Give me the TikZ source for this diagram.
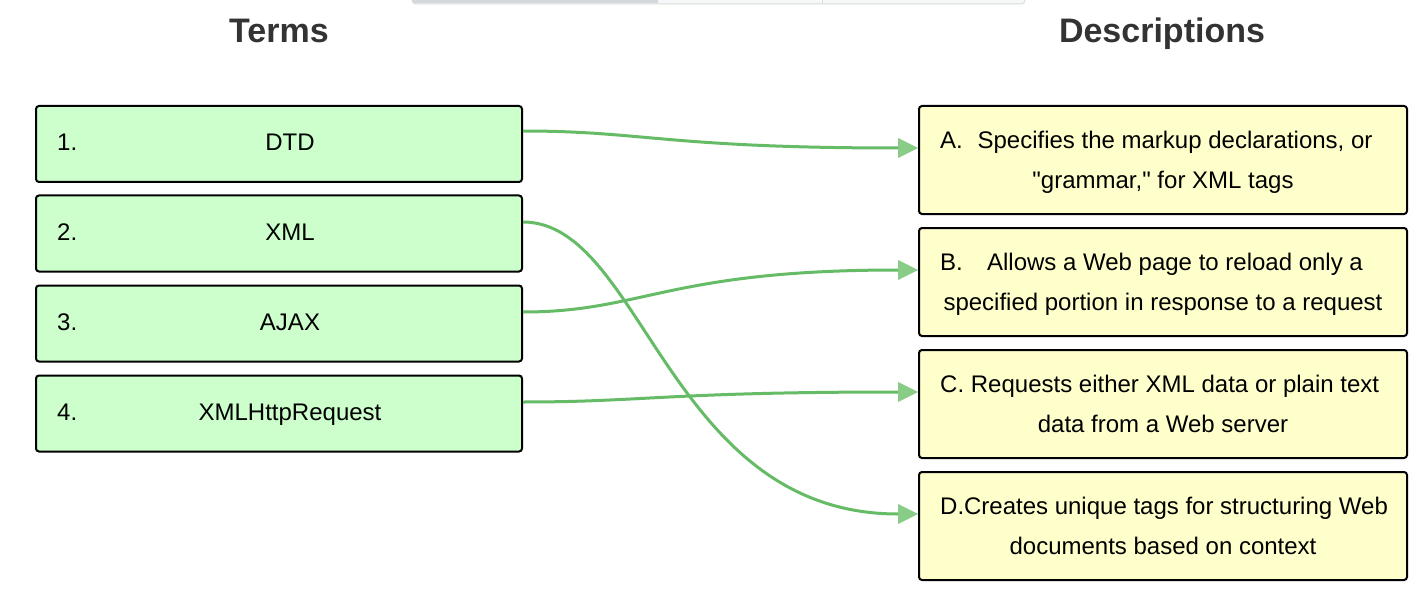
\documentclass[tikz,border=0pt]{standalone}
\usepackage{fontspec}
\setmainfont{Liberation Sans}[Ligatures=TeXOff]
\usetikzlibrary{arrows.meta}
\definecolor{termfill}{HTML}{CCFFCC}
\definecolor{descfill}{HTML}{FFFFCC}
\definecolor{linkgreen}{HTML}{66BB66}
\definecolor{tipgreen}{HTML}{88CC88}
\definecolor{titlegray}{HTML}{333333}
\definecolor{barlight}{HTML}{F6F7F8}
\definecolor{bardark}{HTML}{D3D8DF}
\definecolor{barline}{HTML}{DADCDC}
\begin{document}
\begin{tikzpicture}[x=1pt,y=-1pt,
  termbox/.style={draw=black, line width=2pt, fill=termfill, rounded corners=3pt,
    minimum width=486pt, minimum height=76pt, inner sep=0pt},
  descbox/.style={draw=black, line width=2pt, fill=descfill, rounded corners=3pt,
    minimum width=488pt, minimum height=108pt, inner sep=0pt},
  boxtext/.style={font=\fontsize{24}{28}\selectfont, inner sep=0pt, anchor=base},
  boxlabel/.style={boxtext, anchor=base west},
  titletext/.style={font=\fontsize{34}{40}\selectfont\bfseries, text=titlegray, inner sep=0pt, anchor=base},
  link/.style={draw=linkgreen, line width=3pt,
    -{Triangle[length=20pt,width=20pt,color=tipgreen,line width=0pt]}}
]
\useasboundingbox (0,0) rectangle (1426,604);
\fill[white] (0,0) rectangle (1426,604);

% top bar fragment
\draw[barline, fill=barlight, line width=1pt, rounded corners=4pt] (412,-8) rectangle (1025,4);
\fill[bardark] (412.5,-8) rectangle (658,3.5);
\draw[barline, line width=1pt] (822,-8) -- (822,4);

% titles
\node[titletext] (ttl) at (279,43) {Terms};
\node[titletext] (dtl) at (1162,43) {Descriptions};

% term boxes
\node[termbox] (t1) at (279,144) {};
\node[termbox] (t2) at (279,233.5) {};
\node[termbox] (t3) at (279,323.5) {};
\node[termbox] (t4) at (279,413.5) {};
\node[boxlabel] (t1n) at (57,150.5) {1.};
\node[boxlabel] (t2n) at (57,240) {2.};
\node[boxlabel] (t3n) at (57,330) {3.};
\node[boxlabel] (t4n) at (57,420) {4.};
\node[boxtext] (t1t) at (290,150.5) {DTD};
\node[boxtext] (t2t) at (290,240) {XML};
\node[boxtext] (t3t) at (290,330) {AJAX};
\node[boxtext] (t4t) at (290,420) {XMLHttpRequest};

% description boxes
\node[descbox] (dA) at (1163,160) {};
\node[descbox] (dB) at (1163,282) {};
\node[descbox] (dC) at (1163,404) {};
\node[descbox] (dD) at (1163,526) {};
\node[boxlabel] (dAn) at (940,148.5) {A.};
\node[boxlabel] (dBn) at (940,270.5) {B.};
\node[boxlabel] (dCn) at (940,392.5) {C.};
\node[boxlabel] (dDn) at (940,514.5) {D.};
\node[boxtext] (dA1) at (1175,148.5) {Specifies the markup declarations, or};
\node[boxtext] (dA2) at (1163,188.5) {"grammar," for XML tags};
\node[boxtext] (dB1) at (1175,270.5) {Allows a Web page to reload only a};
\node[boxtext] (dB2) at (1163,310.5) {specified portion in response to a request};
\node[boxtext] (dC1) at (1175,392.5) {Requests either XML data or plain text};
\node[boxtext] (dC2) at (1163,432.5) {data from a Web server};
\node[boxtext] (dD1) at (1176,514.5) {Creates unique tags for structuring Web};
\node[boxtext] (dD2) at (1163,554.5) {documents based on context};

% connectors
\draw[link] ([yshift=13pt]t1.east) .. controls +(120,0) and +(-250,0) .. ([yshift=12pt]dA.west);
\draw[link] ([yshift=11.5pt]t2.east) .. controls +(120,0) and +(-250,0) .. ([yshift=12pt]dD.west);
\draw[link] ([yshift=11.5pt]t3.east) .. controls +(120,0) and +(-250,0) .. ([yshift=12pt]dB.west);
\draw[link] ([yshift=11.5pt]t4.east) .. controls +(120,0) and +(-250,0) .. ([yshift=12pt]dC.west);
\end{tikzpicture}
\end{document}
